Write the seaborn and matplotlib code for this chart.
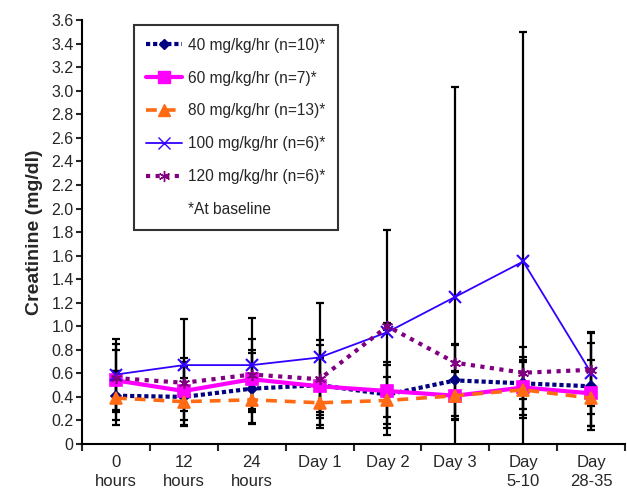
import numpy as np
import pandas as pd
import matplotlib
matplotlib.use("Agg")
import matplotlib.pyplot as plt
from matplotlib.lines import Line2D
from matplotlib.ticker import FixedLocator, FuncFormatter
import seaborn as sns

# time points (x categories)
timepoints = ["0\nhours", "12\nhours", "24\nhours", "Day 1", "Day 2", "Day 3", "Day\n5-10", "Day\n28-35"]

# mean creatinine (mg/dl) per dose group
mean_40 = [0.41, 0.40, 0.47, 0.50, 0.42, 0.54, 0.515, 0.49]
mean_60 = [0.54, 0.45, 0.55, 0.49, 0.45, 0.41, 0.48, 0.43]
mean_80 = [0.39, 0.36, 0.375, 0.35, 0.37, 0.41, 0.46, 0.39]
mean_100 = [0.59, 0.67, 0.67, 0.735, 0.95, 1.25, 1.55, 0.605]
mean_120 = [0.56, 0.52, 0.59, 0.55, 1.00, 0.69, 0.605, 0.63]

# standard deviations (error bars)
sd_40 = [0.21, 0.25, 0.30, 0.34, 0.28, 0.30, 0.22, 0.37]
sd_60 = [0.26, 0.25, 0.25, 0.24, 0.22, 0.20, 0.23, 0.28]
sd_80 = [0.23, 0.20, 0.20, 0.21, 0.20, 0.21, 0.24, 0.24]
sd_100 = [0.30, 0.39, 0.40, 0.465, 0.87, 1.78, 1.95, 0.35]
sd_120 = [0.29, 0.21, 0.30, 0.33, 0.03, 0.16, 0.22, 0.31]

labels = ["40 mg/kg/hr (n=10)*", "60 mg/kg/hr (n=7)*", "80 mg/kg/hr (n=13)*",
          "100 mg/kg/hr (n=6)*", "120 mg/kg/hr (n=6)*"]
means = [mean_40, mean_60, mean_80, mean_100, mean_120]
sds = [sd_40, sd_60, sd_80, sd_100, sd_120]

colors = ["#000080", "#FF00FF", "#FF6A13", "#3300FF", "#800080"]
line_styles = [(0, (1, 0.7)), "-", (0, (3, 2.2)), "-", (0, (1, 1.3))]
line_widths = [3.0, 3.0, 2.6, 1.3, 3.0]
markers = ["D", "s", "^", "x", (6, 2, 0)]
marker_sizes = [5, 8, 8, 8, 8]

sns.set_style("ticks")
plt.rcParams["font.family"] = ["Liberation Sans", "DejaVu Sans"]

fig = plt.figure(figsize=(6.27, 4.9), dpi=100)
ax = fig.add_axes([0.1308, 0.0939, 0.866, 0.865])

x = np.arange(len(timepoints))

# error bars first so lines sit on top
for m, s in zip(means, sds):
    ax.errorbar(x, m, yerr=s, fmt="none", ecolor="black", elinewidth=1.6,
                capsize=3, capthick=1.6, zorder=2)

handles = []
for i, lab in enumerate(labels):
    df = pd.DataFrame({"x": x, "y": means[i]})
    sns.lineplot(data=df, x="x", y="y", ax=ax, color=colors[i],
                 linestyle=line_styles[i], linewidth=line_widths[i],
                 marker=markers[i], markersize=marker_sizes[i],
                 markeredgecolor=colors[i], markeredgewidth=1.5 if markers[i] in ["x"] else 1.2,
                 zorder=3 + i)
    handles.append(Line2D([], [], color=colors[i], linestyle=line_styles[i],
                          linewidth=line_widths[i], marker=markers[i],
                          markersize=marker_sizes[i], markeredgecolor=colors[i],
                          label=lab))
handles.append(Line2D([], [], linestyle="none", label="*At baseline"))

ax.set_xlim(-0.5, len(timepoints) - 0.5)
ax.set_ylim(0, 3.6)
ax.set_xticks(x)
ax.set_xticklabels(timepoints, fontsize=12, linespacing=1.3)
ax.xaxis.set_minor_locator(FixedLocator(np.arange(-0.5, len(timepoints), 1.0)))
ax.tick_params(axis="x", which="major", length=0, pad=8)
ax.tick_params(axis="x", which="minor", length=5, width=1.5, direction="out")
ax.set_yticks(np.round(np.arange(0, 3.61, 0.2), 1))
ax.yaxis.set_major_formatter(FuncFormatter(lambda v, p: "0" if v == 0 else f"{v:.1f}"))
ax.tick_params(axis="y", length=4, width=1.5, labelsize=11.5, pad=2)
ax.set_xlabel("")
ax.set_ylabel("Creatinine (mg/dl)", fontsize=14, fontweight="bold", labelpad=6)
for side in ["top", "right"]:
    ax.spines[side].set_visible(False)
for side in ["left", "bottom"]:
    ax.spines[side].set_linewidth(1.5)
    ax.spines[side].set_color("black")

leg = ax.legend(handles=handles, loc="upper left", bbox_to_anchor=(0.0956, 0.988),
                borderaxespad=0, fontsize=11.2, handlelength=2.3, handletextpad=0.4,
                labelspacing=1.15, frameon=True, fancybox=False, borderpad=0.8)
leg.get_frame().set_edgecolor("black")
leg.get_frame().set_linewidth(1.5)

fig.savefig("out.png", dpi=100)
